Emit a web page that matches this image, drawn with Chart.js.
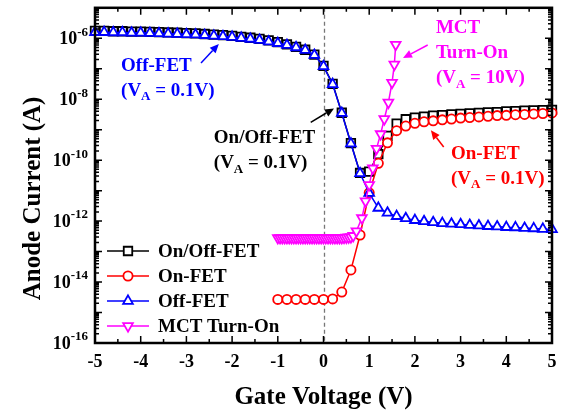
<!DOCTYPE html>
<html>
<head>
<meta charset="utf-8">
<script src="https://cdn.jsdelivr.net/npm/chart.js@4"></script>
<style>
  html, body { margin: 0; padding: 0; background: #fff; }
  #wrap { width: 561px; height: 417px; }
</style>
</head>
<body>
<div id="wrap"><canvas id="chart" width="561" height="417"></canvas></div>
<script>
// gate sweep for the On/Off-FET and Off-FET curves (V)
const gateV = [-5, -4.8, -4.6, -4.4, -4.2, -4, -3.8, -3.6, -3.4, -3.2, -3, -2.8, -2.6, -2.4, -2.2, -2, -1.8, -1.6, -1.4, -1.2,
  -1, -0.8, -0.6, -0.4, -0.2, 0, 0.2, 0.4, 0.6, 0.8, 1, 1.2, 1.4, 1.6, 1.8, 2, 2.2, 2.4, 2.6, 2.8,
  3, 3.2, 3.4, 3.6, 3.8, 4, 4.2, 4.4, 4.6, 4.8, 5];

// anode current (A)
const onOffFet = [1.74e-6, 1.74e-6, 1.70e-6, 1.70e-6, 1.66e-6, 1.66e-6, 1.62e-6, 1.59e-6, 1.55e-6, 1.52e-6, 1.48e-6, 1.45e-6, 1.38e-6, 1.32e-6, 1.26e-6, 1.20e-6, 1.12e-6, 1.04e-6, 9.5e-7, 8.5e-7,
  7.5e-7, 6.3e-7, 5.2e-7, 4.2e-7, 2.9e-7, 1.25e-7, 3.2e-8, 3.6e-9, 3.6e-10, 3.8e-11,
  4.2e-11, 1.58e-10, 6.3e-10, 1.58e-9, 2.2e-9, 2.5e-9, 2.7e-9, 2.9e-9, 3.0e-9, 3.16e-9,
  3.3e-9, 3.45e-9, 3.55e-9, 3.7e-9, 3.8e-9, 4.0e-9, 4.1e-9, 4.2e-9, 4.3e-9, 4.4e-9, 4.5e-9];

const offFet = [1.58e-6, 1.58e-6, 1.55e-6, 1.55e-6, 1.51e-6, 1.51e-6, 1.48e-6, 1.45e-6, 1.41e-6, 1.38e-6, 1.35e-6, 1.32e-6, 1.26e-6, 1.20e-6, 1.15e-6, 1.10e-6, 1.02e-6, 9.5e-7, 8.7e-7, 7.8e-7,
  6.9e-7, 6.0e-7, 5.0e-7, 4.1e-7, 2.8e-7, 1.2e-7, 3.1e-8, 3.5e-9, 3.5e-10, 3.7e-11,
  8.3e-12, 2.7e-12, 1.86e-12, 1.45e-12, 1.23e-12, 1.07e-12, 9.8e-13, 9.1e-13, 8.5e-13, 8.1e-13,
  7.8e-13, 7.4e-13, 7.1e-13, 6.8e-13, 6.6e-13, 6.3e-13, 6.2e-13, 5.9e-13, 5.75e-13, 5.5e-13, 5.4e-13];

const onFetV = [-1, -0.8, -0.6, -0.4, -0.2, 0, 0.2, 0.4, 0.6, 0.8, 1, 1.2, 1.4, 1.6, 1.8, 2, 2.2, 2.4, 2.6, 2.8,
  3, 3.2, 3.4, 3.6, 3.8, 4, 4.2, 4.4, 4.6, 4.8, 5];
const onFet = [2.7e-15, 2.7e-15, 2.7e-15, 2.7e-15, 2.7e-15, 2.7e-15, 2.8e-15, 4.7e-15, 2.5e-14, 3.5e-13,
  8.5e-12, 7.9e-11, 3.7e-10, 9.3e-10, 1.32e-9, 1.62e-9, 1.82e-9, 1.95e-9, 2.1e-9, 2.24e-9,
  2.4e-9, 2.5e-9, 2.63e-9, 2.75e-9, 2.9e-9, 2.95e-9, 3.1e-9, 3.16e-9, 3.3e-9, 3.4e-9, 3.55e-9];

const mctV = [-1, -0.95, -0.9, -0.85, -0.8, -0.75, -0.7, -0.65, -0.6, -0.55, -0.5, -0.45, -0.4, -0.35, -0.3, -0.25, -0.2,
  -0.15, -0.1, -0.05, 0, 0.05, 0.1, 0.15, 0.2, 0.25, 0.3, 0.35, 0.4, 0.45, 0.5, 0.55, 0.6, 0.65,
  0.72, 0.84, 0.92, 1.0, 1.08, 1.16, 1.25, 1.33, 1.42, 1.5, 1.55, 1.58];
const mctTurnOn = [2.8e-13, 2.8e-13, 2.8e-13, 2.8e-13, 2.8e-13, 2.8e-13, 2.8e-13, 2.8e-13, 2.8e-13, 2.8e-13, 2.8e-13, 2.8e-13, 2.8e-13, 2.8e-13, 2.8e-13, 2.8e-13, 2.8e-13,
  2.8e-13, 2.8e-13, 2.8e-13, 2.8e-13, 2.8e-13, 2.8e-13, 2.8e-13, 2.8e-13, 2.8e-13, 2.8e-13, 2.8e-13, 2.8e-13, 2.85e-13, 2.9e-13, 2.95e-13, 3.0e-13, 3.3e-13,
  4.7e-13, 1.26e-12, 4.5e-12, 1.55e-11, 5.4e-11, 2.4e-10, 7.2e-10, 2.24e-9, 7.8e-9, 3.5e-8, 1.38e-7, 6.2e-7];

const seriesNames = ['On/Off-FET', 'On-FET', 'Off-FET', 'MCT Turn-On'];
const xTicks = [-5, -4, -3, -2, -1, 0, 1, 2, 3, 4, 5];
const yLabelExps = [-16, -14, -12, -10, -8, -6];

const FONT = "'Liberation Serif', 'Times New Roman', serif";
const pts = (xs, ys) => xs.map((x, i) => ({ x, y: ys[i] }));

// text notes with arrows, anchored in data units
const notes = [
  { color: '#0000ff', at: [-4.43, 1.26e-7], lines: ['Off-FET', ['0.1V']], arrow: [[-2.68, 1.55e-7], [-2.29, 6.5e-7]] },
  { color: '#000000', at: [-2.40, 5.2e-10], lines: ['On/Off-FET', ['0.1V']], arrow: [[-0.28, 1.74e-9], [0.23, 5.0e-9]] },
  { color: '#ff00ff', at: [2.46, 2.1e-6], lines: ['MCT', 'Turn-On', ['10V']], arrow: [[2.28, 6.0e-7], [1.74, 2.24e-7]] },
  { color: '#ff0000', at: [2.79, 1.6e-10], lines: ['On-FET', ['0.1V']], arrow: [[2.63, 2.7e-10], [2.35, 9.5e-10]] }
];

const mk = (label, data, color, style, rot, r, order) => ({
  label, data, borderColor: color, backgroundColor: '#fff',
  borderWidth: 1.5, pointStyle: style, pointRotation: rot, pointRadius: r,
  pointBorderWidth: 1.8, pointBackgroundColor: '#fff', pointBorderColor: color,
  tension: 0, clip: false, order
});

const drawRich = (ctx, parts, x, y) => {
  let cx = x;
  parts.forEach(([t, sub]) => {
    ctx.font = sub ? `bold 13px ${FONT}` : `bold 19px ${FONT}`;
    ctx.fillText(t, cx, sub ? y + 6 : y);
    cx += ctx.measureText(t).width;
  });
};

const arrow = (ctx, x1, y1, x2, y2) => {
  const ang = Math.atan2(y2 - y1, x2 - x1);
  const hl = 9, hw = 4;
  ctx.beginPath();
  ctx.moveTo(x1, y1);
  ctx.lineTo(x2 - Math.cos(ang) * hl, y2 - Math.sin(ang) * hl);
  ctx.stroke();
  ctx.beginPath();
  ctx.moveTo(x2, y2);
  ctx.lineTo(x2 - Math.cos(ang) * hl - Math.sin(ang) * hw, y2 - Math.sin(ang) * hl + Math.cos(ang) * hw);
  ctx.lineTo(x2 - Math.cos(ang) * hl + Math.sin(ang) * hw, y2 - Math.sin(ang) * hl - Math.cos(ang) * hw);
  ctx.closePath();
  ctx.fill();
};

const decor = {
  id: 'decor',
  beforeDatasetsDraw(chart) {
    const { ctx, chartArea: a, scales: { x } } = chart;
    const x0 = Math.round(x.getPixelForValue(0)) + 0.5;
    ctx.save();
    ctx.strokeStyle = '#777';
    ctx.lineWidth = 1.3;
    ctx.setLineDash([4, 3]);
    ctx.beginPath();
    ctx.moveTo(x0, a.top);
    ctx.lineTo(x0, a.bottom);
    ctx.stroke();
    ctx.restore();
  },
  afterDraw(chart) {
    const { ctx, chartArea: a, scales: { x, y } } = chart;
    ctx.save();
    ctx.strokeStyle = '#000';
    ctx.fillStyle = '#000';

    // ticks, all pointing inward
    ctx.lineWidth = 1.5;
    ctx.beginPath();
    for (let v = -5; v <= 5.001; v += 0.5) {
      const px = x.getPixelForValue(v);
      const len = Math.abs(v - Math.round(v)) < 1e-6 ? 7 : 4;
      ctx.moveTo(px, a.bottom); ctx.lineTo(px, a.bottom - len);
      ctx.moveTo(px, a.top); ctx.lineTo(px, a.top + len);
    }
    for (let d = -16; d <= -5; d++) {
      for (let m = 1; m <= 9; m++) {
        const val = m * Math.pow(10, d);
        if (val > 1.0001e-5) break;
        const py = y.getPixelForValue(val);
        const len = m === 1 ? 7 : 4;
        ctx.moveTo(a.left, py); ctx.lineTo(a.left + len, py);
        ctx.moveTo(a.right, py); ctx.lineTo(a.right - len, py);
      }
    }
    ctx.stroke();

    // frame
    ctx.lineWidth = 2.5;
    ctx.strokeRect(a.left, a.top, a.right - a.left, a.bottom - a.top);

    // x tick labels
    ctx.font = `bold 18px ${FONT}`;
    ctx.textAlign = 'center';
    ctx.textBaseline = 'middle';
    xTicks.forEach(v => ctx.fillText(String(v), x.getPixelForValue(v), a.bottom + 19));

    // y tick labels 10^n
    ctx.textAlign = 'left';
    yLabelExps.forEach(e => {
      const py = y.getPixelForValue(Math.pow(10, e));
      ctx.font = `bold 13px ${FONT}`;
      const sup = String(e);
      const sw = ctx.measureText(sup).width;
      ctx.font = `bold 18px ${FONT}`;
      const bw = ctx.measureText('10').width;
      const right = a.left - 7;
      ctx.fillText('10', right - sw - bw, py + 1);
      ctx.font = `bold 13px ${FONT}`;
      ctx.fillText(sup, right - sw, py - 6);
    });

    // axis titles
    ctx.font = `bold 25px ${FONT}`;
    ctx.textAlign = 'center';
    ctx.textBaseline = 'alphabetic';
    ctx.fillText('Gate Voltage (V)', (a.left + a.right) / 2, 404);
    ctx.save();
    ctx.translate(40, (a.top + a.bottom) / 2 + 23);
    ctx.rotate(-Math.PI / 2);
    ctx.fillText('Anode Current (A)', 0, 0);
    ctx.restore();

    // notes with arrows
    ctx.textAlign = 'left';
    ctx.textBaseline = 'middle';
    notes.forEach(n => {
      ctx.fillStyle = n.color;
      ctx.strokeStyle = n.color;
      ctx.lineWidth = 1.5;
      const nx = x.getPixelForValue(n.at[0]);
      const ny = y.getPixelForValue(n.at[1]);
      n.lines.forEach((ln, i) => {
        const ly = ny + i * 25;
        if (Array.isArray(ln)) drawRich(ctx, [['(V', false], ['A', true], [' = ' + ln[0] + ')', false]], nx, ly);
        else drawRich(ctx, [[ln, false]], nx, ly);
      });
      const [t, h] = n.arrow;
      arrow(ctx, x.getPixelForValue(t[0]), y.getPixelForValue(t[1]), x.getPixelForValue(h[0]), y.getPixelForValue(h[1]));
    });

    // legend
    const lx = a.left + 12, ly0 = a.bottom - 92;
    chart.data.datasets.forEach((ds, i) => {
      const ry = ly0 + i * 25;
      ctx.strokeStyle = ds.borderColor;
      ctx.lineWidth = ds.borderWidth;
      ctx.beginPath();
      ctx.moveTo(lx, ry); ctx.lineTo(lx + 42, ry);
      ctx.stroke();
      ctx.fillStyle = '#fff';
      ctx.lineWidth = ds.pointBorderWidth;
      Chart.helpers.drawPoint(ctx, { pointStyle: ds.pointStyle, rotation: ds.pointRotation, radius: ds.pointRadius, borderWidth: ds.pointBorderWidth }, lx + 21, ry);
      ctx.fillStyle = '#000';
      ctx.font = `bold 19px ${FONT}`;
      ctx.fillText(ds.label, lx + 51, ry + 1);
    });
    ctx.restore();
  }
};

new Chart(document.getElementById('chart'), {
  type: 'line',
  data: {
    datasets: [
      mk(seriesNames[0], pts(gateV, onOffFet), '#000000', 'rect', 0, 6, 4),
      mk(seriesNames[1], pts(onFetV, onFet), '#ff0000', 'circle', 0, 4.6, 3),
      mk(seriesNames[2], pts(gateV, offFet), '#0000ff', 'triangle', 0, 5.6, 2),
      mk(seriesNames[3], pts(mctV, mctTurnOn), '#ff00ff', 'triangle', 180, 5.6, 1)
    ]
  },
  options: {
    responsive: false,
    animation: false,
    devicePixelRatio: 1,
    layout: { padding: { left: 95, right: 9, top: 4, bottom: 74 } },
    plugins: { legend: { display: false }, tooltip: { enabled: false } },
    scales: {
      x: { type: 'linear', min: -5, max: 5, display: false },
      y: { type: 'logarithmic', min: 1e-16, max: 1e-5, display: false }
    }
  },
  plugins: [decor]
});
</script>
</body>
</html>
